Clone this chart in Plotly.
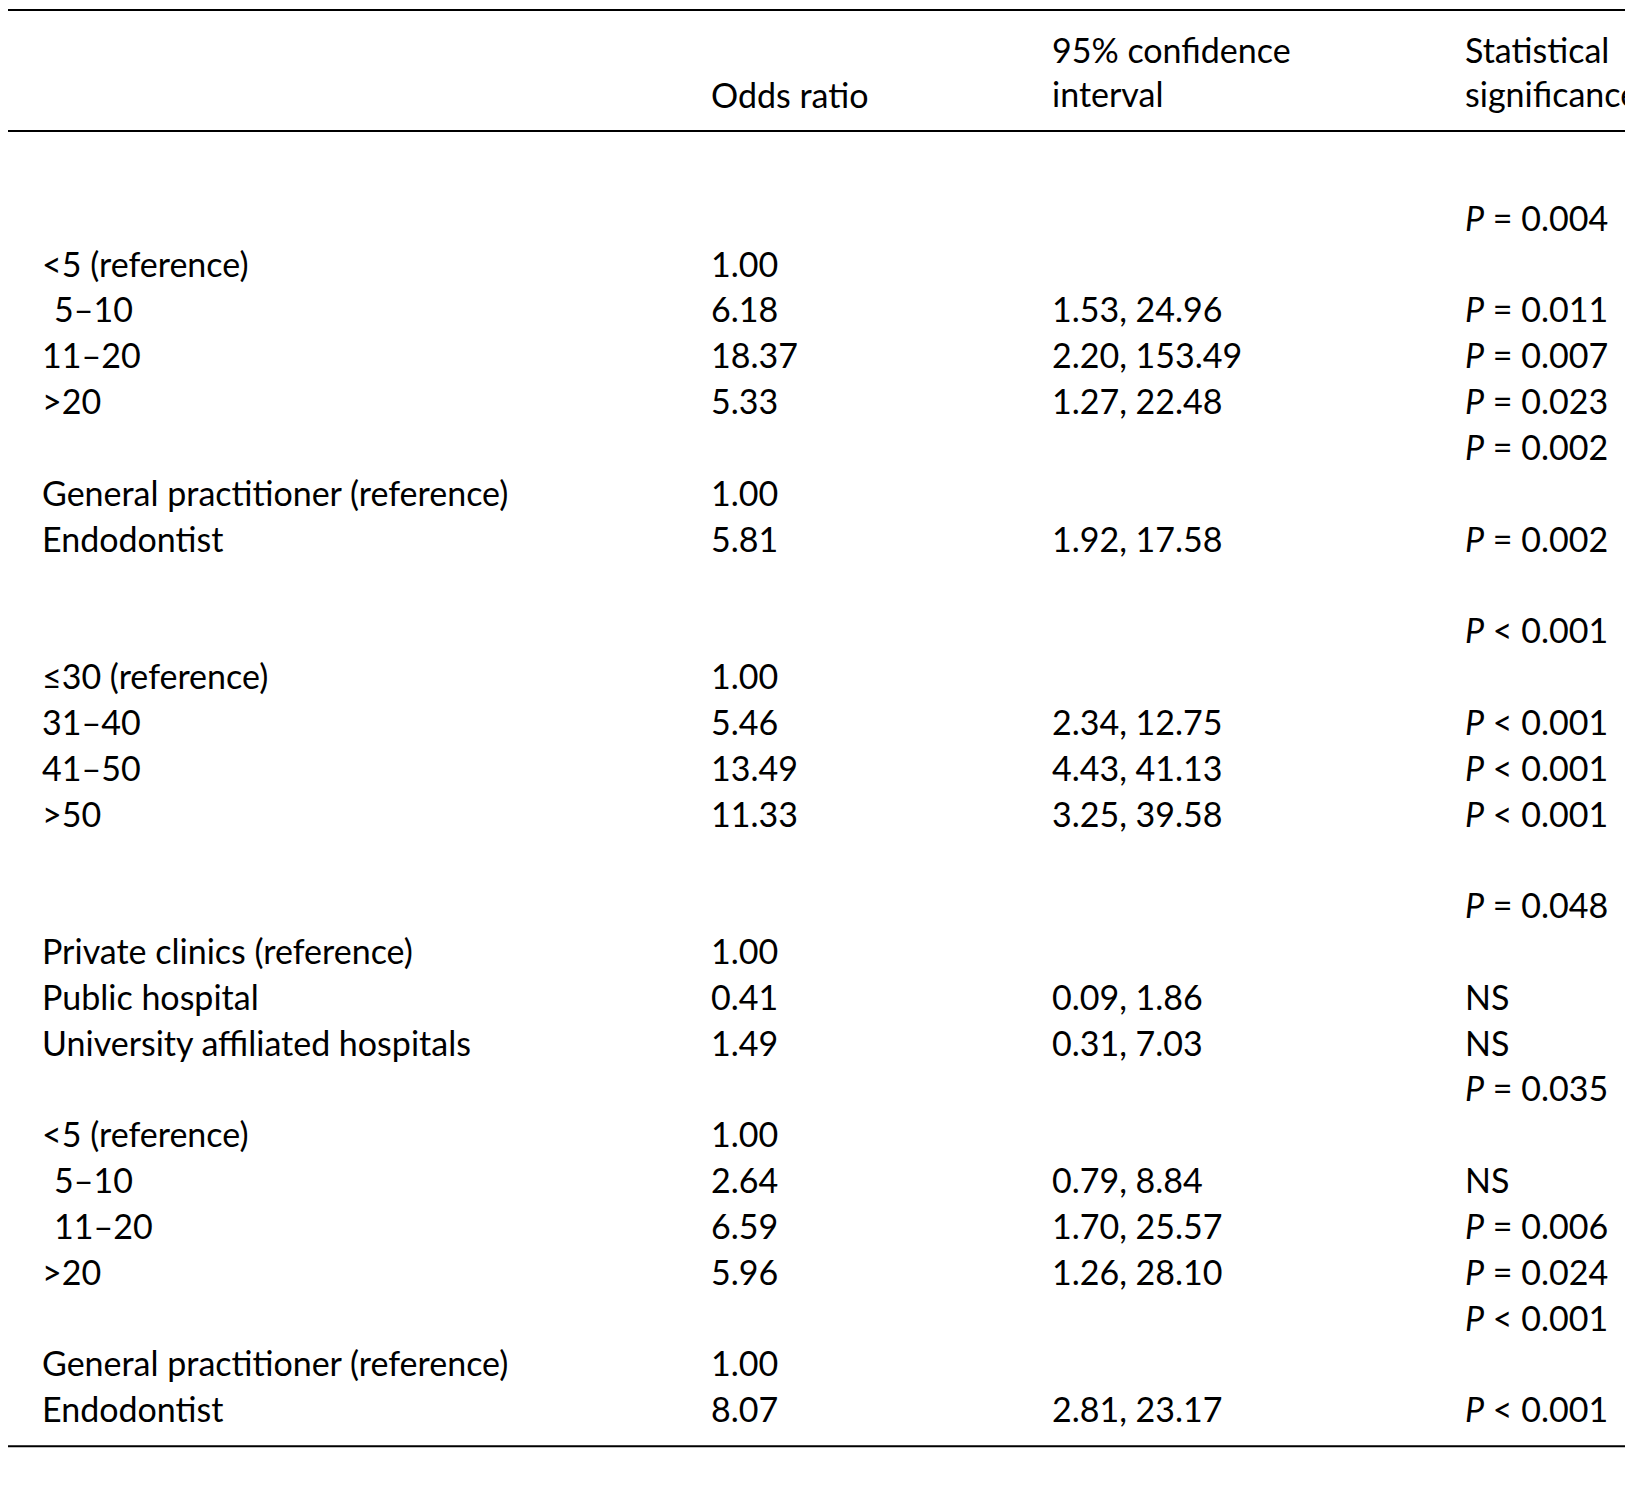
import plotly.graph_objects as go

headers = ["Characteristic", "Odds ratio", "95% confidence<br>interval", "Statistical<br>significance"]
characteristic = [
    "<i>Application of DPC (NO versus YES)</i>", "Years of practise", "   <5 (reference)", "    5–10", "   11–20", "   >20",
    "Specialty", "   General practitioner (reference)", "   Endodontist",
    "<i>Application of PP (NO versus YES)</i>", "Age, years", "   ≤30 (reference)", "   31–40", "   41–50", "   >50",
    "<i>Application of CSMs used for VPT (NO versus YES)</i>", "Work setting", "   Private clinics (reference)",
    "   Public hospital", "   University affiliated hospitals", "Years of practise", "   <5 (reference)", "    5–10",
    "    11–20", "   >20", "Specialty", "   General practitioner (reference)", "   Endodontist",
]
odds = ["", "", "1.00", "6.18", "18.37", "5.33", "", "1.00", "5.81",
        "", "", "1.00", "5.46", "13.49", "11.33",
        "", "", "1.00", "0.41", "1.49", "", "1.00", "2.64", "6.59", "5.96", "", "1.00", "8.07"]
ci = ["", "", "", "1.53, 24.96", "2.20, 153.49", "1.27, 22.48", "", "", "1.92, 17.58",
      "", "", "", "2.34, 12.75", "4.43, 41.13", "3.25, 39.58",
      "", "", "", "0.09, 1.86", "0.31, 7.03", "", "", "0.79, 8.84", "1.70, 25.57", "1.26, 28.10", "", "", "2.81, 23.17"]
pval = ["", "P = 0.004", "", "P = 0.011", "P = 0.007", "P = 0.023", "P = 0.002", "", "P = 0.002",
        "", "P < 0.001", "", "P < 0.001", "P < 0.001", "P < 0.001",
        "", "P = 0.048", "", "NS", "NS", "P = 0.035", "", "NS", "P = 0.006", "P = 0.024", "P < 0.001", "", "P < 0.001"]
footnote = "DPC, direct pulp capping; PP, partial pulpotomy; NS, no significant association (<i>P</i> ≥ 0.05)."

S = 1633 / 1568
OFF = -8
col_x = [3, 681, 1008, 1405]
row0, step = 157, 44
font = dict(family="Lato, Open Sans, sans-serif", size=34, color="black")

fig = go.Figure()
ann = []
def add(x, y, t):
    ann.append(dict(x=x * S + OFF, y=y * S, text=t, xref="x", yref="y", xanchor="left", yanchor="middle",
                    showarrow=False, font=font, align="left"))

for x, h in zip(col_x, headers):
    add(x, 61 if "<br>" in h else 83, h)

def fmt_p(p):
    if p.startswith("P"):
        return "<i>P</i>" + p[1:]
    return p

for i in range(len(characteristic)):
    y = row0 + i * step
    c = characteristic[i]
    if c.startswith("   "):
        lead = len(c) - len(c.lstrip(" "))
        txt = c.lstrip(" ").replace("<5", "&lt;5")
        add(38 + (12 if lead == 4 else 0), y, txt)
    else:
        add(col_x[0], y, c)
    if odds[i]: add(col_x[1], y, odds[i])
    if ci[i]: add(col_x[2], y, ci[i])
    if pval[i]: add(col_x[3], y, fmt_p(pval[i]))

add(3, 1416, footnote)

shapes = [dict(type="line", xref="x", yref="y", x0=0, x1=1568 * S, y0=yy * S, y1=yy * S,
               line=dict(color="black", width=2)) for yy in (2, 118, 1381)]

fig.update_layout(width=1633, height=1493, margin=dict(l=0, r=0, t=0, b=0),
                  plot_bgcolor="white", paper_bgcolor="white", annotations=ann, shapes=shapes,
                  xaxis=dict(range=[0, 1633], visible=False, fixedrange=True),
                  yaxis=dict(range=[1493, 0], visible=False, fixedrange=True), showlegend=False)
fig.write_html("out.html")
